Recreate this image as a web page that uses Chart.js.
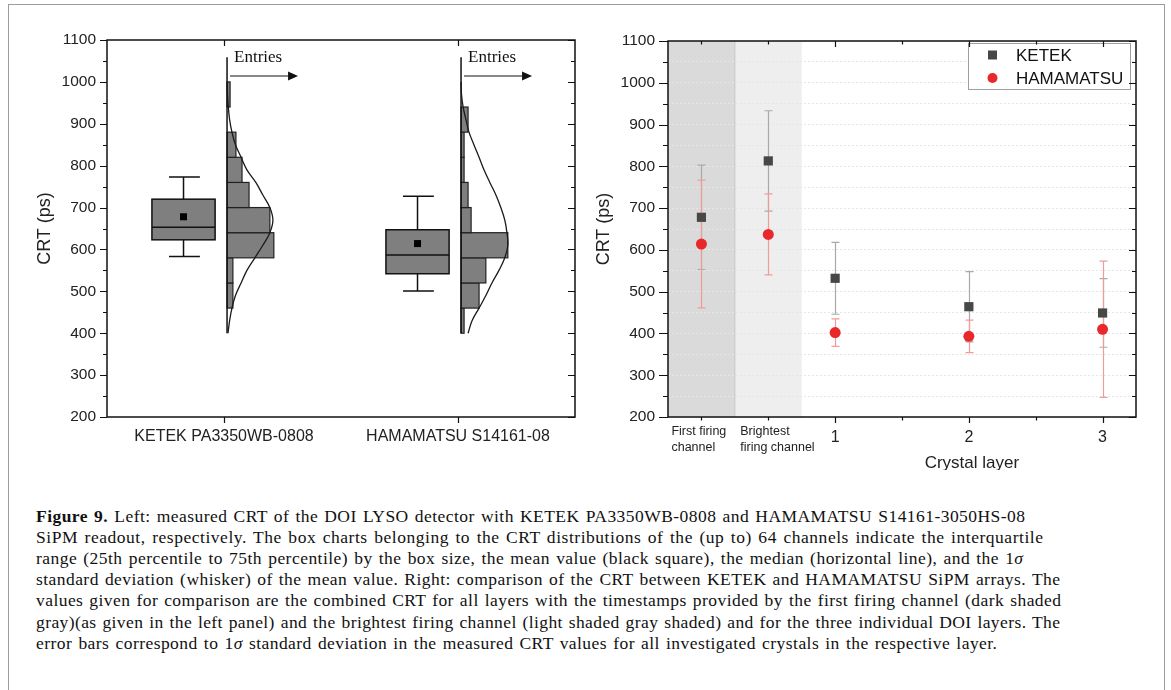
<!DOCTYPE html>
<html>
<head>
<meta charset="utf-8">
<script src="https://cdn.jsdelivr.net/npm/chart.js@4.4.1/dist/chart.umd.min.js"></script>
<style>
  body { margin: 0; background: #fff; width: 1171px; height: 690px; overflow: hidden; position: relative; }
  #frame { position: absolute; left: 8px; top: 4px; width: 1155px; height: 720px; border: 1.5px solid #9c9c9c; }
  canvas { position: absolute; top: 0; }
  #left { left: 0; }
  #right { left: 590px; }
  .cap { position: absolute; left: 36px; font-family: 'Liberation Serif', 'Times New Roman', serif; font-size: 17.5px; line-height: 21px; white-space: nowrap; color: #111; }
</style>
</head>
<body>
<div id="frame"></div>
<canvas id="left" width="590" height="470" style="width:590px;height:470px"></canvas>
<canvas id="right" width="575" height="470" style="width:575px;height:470px"></canvas>
<script>
const FONT = "'Liberation Sans', Arial, sans-serif"

// ---- left panel: box charts + histograms
const sipms = ['KETEK PA3350WB-0808', 'HAMAMATSU S14161-08']
const sipmX = [0.5, 1.5]
const boxQ1 = [623, 542]
const boxMedian = [653, 587]
const boxQ3 = [720, 647]
const boxMean = [678, 614]
const whiskerLow = [583, 501]
const whiskerHigh = [773, 727]

const binEdges = [400, 460, 520, 580, 640, 700, 760, 820, 880, 940, 1000]
const ketekEntries = [0, 2.5, 2.5, 20, 18.3, 9.4, 6.4, 3.8, 0, 1.3]
const hamaEntries = [1.3, 7.7, 10.6, 20, 4.3, 3, 1.3, 1.3, 3, 0]

// fitted curves
const curveCRT = [400, 430, 460, 490, 520, 550, 580, 610, 640, 670, 700, 730, 760, 790, 820, 850, 880, 910, 940, 970, 1000]
const ketekCurve = [0.4, 1.1, 2.1, 3.6, 6.0, 8.5, 11.9, 15.3, 18.3, 19.6, 18.3, 15.3, 12.3, 8.5, 6.0, 3.6, 2.1, 1.1, 0.55, 0.2, 0.1]
const hamaCurve = [3.0, 4.7, 7.7, 10.6, 13.2, 16.2, 18.7, 20.0, 19.6, 18.7, 17.0, 14.9, 12.3, 9.8, 7.7, 5.5, 3.4, 2.1, 0.9, 0.2, 0]

const crtTicks = [200, 250, 300, 350, 400, 450, 500, 550, 600, 650, 700, 750, 800, 850, 900, 950, 1000, 1050, 1100]

// ---- right panel: CRT per layer
const layers = [['First firing', 'channel'], ['Brightest', 'firing channel'], '1', '2', '3']
const layerX = [0, 1, 2, 4, 6]
const layerTicks = [0, 1, 2, 3, 4, 5, 6]
const ketekCRT = [678, 813, 532, 464, 449]
const ketekSigma = [125, 120, 86, 84, 82]
const hamaCRT = [614, 637, 402, 393, 410]
const hamaSigma = [153, 97, 33, 39, 163]

const ENTRY_W = 0.01   // x units per entry
const HIST_SHIFT = 0.013

function curvePoints(k, widths) {
  return curveCRT.map((v, i) => ({ x: sipmX[k] + HIST_SHIFT + widths[i] * ENTRY_W, y: v }))
}

// ticks on all four sides + frame
function makeAxisMarks(cfg) {
  return {
    id: 'axisMarks',
    afterDraw(chart) {
      const { ctx, chartArea: a, scales: { x, y } } = chart
      ctx.save()
      ctx.strokeStyle = '#111'
      ctx.lineWidth = 1.2
      ctx.beginPath()
      y.ticks.forEach(t => {
        const p = Math.round(y.getPixelForValue(t.value)) + 0.5
        const major = t.value % 100 === 0
        const out = major ? cfg.yOut[0] : cfg.yOut[1]
        const inn = major ? cfg.yIn[0] : cfg.yIn[1]
        ctx.moveTo(a.left - out, p); ctx.lineTo(a.left, p)
        ctx.moveTo(a.right - inn, p); ctx.lineTo(a.right, p)
      })
      x.ticks.forEach(t => {
        const p = Math.round(x.getPixelForValue(t.value)) + 0.5
        const major = cfg.xMajor.includes(t.value)
        const len = major ? cfg.xLen[0] : cfg.xLen[1]
        ctx.moveTo(p, a.bottom); ctx.lineTo(p, a.bottom + len)
        ctx.moveTo(p, a.top); ctx.lineTo(p, a.top + len)
      })
      ctx.stroke()
      ctx.lineWidth = 1.5
      ctx.strokeRect(a.left, a.top, a.right - a.left, a.bottom - a.top)
      ctx.restore()
    }
  }
}

const boxHist = {
  id: 'boxHist',
  beforeDatasetsDraw(chart) {
    const { ctx, chartArea: a, scales: { x, y } } = chart
    ctx.save()
    const groups = [ketekEntries, hamaEntries]
    groups.forEach((entries, k) => {
      const base = sipmX[k] + HIST_SHIFT
      const bx = x.getPixelForValue(base)
      // histogram bars
      entries.forEach((n, i) => {
        if (!n) return
        const x1 = x.getPixelForValue(base + n * ENTRY_W)
        const yt = y.getPixelForValue(binEdges[i + 1])
        const yb = y.getPixelForValue(binEdges[i])
        ctx.fillStyle = '#7f7f7f'
        ctx.fillRect(bx, yt, x1 - bx, yb - yt)
        ctx.strokeStyle = '#222'
        ctx.lineWidth = 1.2
        ctx.strokeRect(bx, yt, x1 - bx, yb - yt)
      })
      ctx.strokeStyle = '#111'
      ctx.lineWidth = 1.5
      ctx.beginPath()
      ctx.moveTo(bx, y.getPixelForValue(400))
      ctx.lineTo(bx, y.getPixelForValue(1059))
      ctx.stroke()

      // "Entries" arrow
      ctx.fillStyle = '#111'
      ctx.font = "17px 'Liberation Serif', serif"
      ctx.textAlign = 'left'
      ctx.textBaseline = 'middle'
      ctx.fillText('Entries', bx + 7, a.top + 18)
      const ay = a.top + 36
      ctx.lineWidth = 1.2
      ctx.beginPath()
      ctx.moveTo(bx + 3, ay); ctx.lineTo(bx + 63, ay)
      ctx.stroke()
      ctx.beginPath()
      ctx.moveTo(bx + 71, ay); ctx.lineTo(bx + 61, ay - 4.5); ctx.lineTo(bx + 61, ay + 4.5)
      ctx.closePath(); ctx.fill()

      // box chart
      const c = sipmX[k]
      const l = x.getPixelForValue(c - 0.308), r = x.getPixelForValue(c - 0.038)
      const m = x.getPixelForValue(c - 0.173)
      const cl = x.getPixelForValue(c - 0.235), cr = x.getPixelForValue(c - 0.103)
      const q1 = y.getPixelForValue(boxQ1[k]), q3 = y.getPixelForValue(boxQ3[k])
      const md = y.getPixelForValue(boxMedian[k])
      const wl = y.getPixelForValue(whiskerLow[k]), wh = y.getPixelForValue(whiskerHigh[k])
      ctx.strokeStyle = '#111'
      ctx.lineWidth = 1.5
      ctx.beginPath()
      ctx.moveTo(m, q3); ctx.lineTo(m, wh)
      ctx.moveTo(cl, wh); ctx.lineTo(cr, wh)
      ctx.moveTo(m, q1); ctx.lineTo(m, wl)
      ctx.moveTo(cl, wl); ctx.lineTo(cr, wl)
      ctx.stroke()
      ctx.fillStyle = '#7f7f7f'
      ctx.fillRect(l, q3, r - l, q1 - q3)
      ctx.strokeRect(l, q3, r - l, q1 - q3)
      ctx.beginPath()
      ctx.moveTo(l, md); ctx.lineTo(r, md)
      ctx.stroke()
      const mp = y.getPixelForValue(boxMean[k])
      ctx.fillStyle = '#000'
      ctx.fillRect(m - 3.5, mp - 3.5, 7, 7)
    })
    ctx.restore()
  }
}

new Chart(document.getElementById('left'), {
  type: 'scatter',
  data: {
    datasets: [
      { label: 'KETEK fit', data: curvePoints(0, ketekCurve), showLine: true, tension: 0.4, pointRadius: 0, borderColor: '#1a1a1a', borderWidth: 1.3 },
      { label: 'HAMAMATSU fit', data: curvePoints(1, hamaCurve), showLine: true, tension: 0.4, pointRadius: 0, borderColor: '#1a1a1a', borderWidth: 1.3 }
    ]
  },
  options: {
    responsive: false,
    animation: false,
    layout: { padding: { top: 40, right: 15, left: 0, bottom: 0 } },
    plugins: { legend: { display: false }, tooltip: { enabled: false } },
    scales: {
      x: {
        type: 'linear', min: 0, max: 2,
        afterBuildTicks: s => { s.ticks = sipmX.map(v => ({ value: v })) },
        afterFit: s => { s.height = 53 },
        grid: { drawOnChartArea: false, tickLength: 6, tickColor: 'transparent' },
        border: { display: false },
        ticks: { padding: 4, autoSkip: false, maxRotation: 0, color: '#222', font: { size: 16, family: FONT },
          callback: v => sipms[sipmX.indexOf(v)] }
      },
      y: {
        min: 200, max: 1100,
        afterBuildTicks: s => { s.ticks = crtTicks.map(v => ({ value: v })) },
        afterFit: s => { s.width = 107 },
        grid: { drawOnChartArea: false, tickLength: 7, tickColor: 'transparent' },
        border: { display: false },
        ticks: { padding: 4, autoSkip: false, color: '#222', font: { size: 15.5, family: FONT },
          callback: v => v % 100 === 0 ? String(v) : '' },
        title: { display: true, text: 'CRT (ps)', color: '#222', font: { size: 18, family: FONT }, padding: { top: 34, bottom: 0 } }
      }
    }
  },
  plugins: [boxHist, makeAxisMarks({ yOut: [7, 4], yIn: [7, 4], xMajor: sipmX, xLen: [6, 6] })]
})

// ---- right panel
const shading = {
  id: 'shading',
  beforeDraw(chart) {
    const { ctx, chartArea: a, scales: { x } } = chart
    const p0 = x.getPixelForValue(-0.5), p1 = x.getPixelForValue(0.5), p2 = x.getPixelForValue(1.5)
    ctx.save()
    ctx.fillStyle = '#dadada'
    ctx.fillRect(p0, a.top, p1 - p0, a.bottom - a.top)
    ctx.fillStyle = '#eeeeee'
    ctx.fillRect(p1, a.top, p2 - p1, a.bottom - a.top)
    ctx.strokeStyle = '#c4c4c4'
    ctx.lineWidth = 1
    ctx.beginPath(); ctx.moveTo(p1, a.top); ctx.lineTo(p1, a.bottom); ctx.stroke()
    ctx.restore()
  }
}

const errorBars = {
  id: 'errorBars',
  beforeDatasetsDraw(chart) {
    const { ctx, scales: { x, y } } = chart
    ctx.save()
    chart.data.datasets.forEach(ds => {
      ctx.strokeStyle = ds.errColor
      ctx.lineWidth = 1.2
      ctx.beginPath()
      ds.data.forEach((pt, i) => {
        const px = Math.round(x.getPixelForValue(pt.x)) + 0.5
        const hi = y.getPixelForValue(pt.y + ds.sigma[i])
        const lo = y.getPixelForValue(pt.y - ds.sigma[i])
        ctx.moveTo(px, hi); ctx.lineTo(px, lo)
        ctx.moveTo(px - 4, hi); ctx.lineTo(px + 4, hi)
        ctx.moveTo(px - 4, lo); ctx.lineTo(px + 4, lo)
      })
      ctx.stroke()
    })
    ctx.restore()
  }
}

const rightText = {
  id: 'rightText',
  afterDraw(chart) {
    const { ctx, chartArea: a, scales: { x } } = chart
    ctx.save()
    ctx.fillStyle = '#222'
    // two-line category labels, left aligned
    ctx.font = '12.5px ' + FONT
    ctx.textAlign = 'left'
    ctx.textBaseline = 'middle'
    layers.forEach((lab, i) => {
      if (!Array.isArray(lab)) return
      const px = x.getPixelForValue(layerX[i]) - (i === 0 ? 30 : 28)
      lab.forEach((line, j) => ctx.fillText(line, px, a.bottom + 15 + j * 16))
    })
    // axis title, centred over layer 2
    ctx.font = '17px ' + FONT
    ctx.textAlign = 'center'
    ctx.fillText('Crystal layer', x.getPixelForValue(layerX[3]) + 3, a.bottom + 46)

    // legend
    const bl = a.right - 168, bt = a.top + 2
    ctx.fillStyle = '#fff'
    ctx.fillRect(bl, bt, 162, 46)
    ctx.strokeStyle = '#a0a0a0'
    ctx.lineWidth = 1
    ctx.strokeRect(bl + 0.5, bt + 0.5, 162, 46)
    chart.data.datasets.forEach((ds, i) => {
      const yy = bt + 12 + i * 23
      ctx.fillStyle = ds.backgroundColor
      if (ds.pointStyle === 'rect') {
        ctx.fillRect(bl + 20, yy - 4.5, 9, 9)
      } else {
        ctx.beginPath(); ctx.arc(bl + 24.5, yy, 5, 0, Math.PI * 2); ctx.fill()
      }
      ctx.fillStyle = '#111'
      ctx.font = '17px ' + FONT
      ctx.textAlign = 'left'
      ctx.fillText(ds.label, bl + 48, yy + 1)
    })
    ctx.restore()
  }
}

new Chart(document.getElementById('right'), {
  type: 'scatter',
  data: {
    datasets: [
      { label: 'KETEK', data: layerX.map((v, i) => ({ x: v, y: ketekCRT[i] })), sigma: ketekSigma, errColor: '#a9a9a9',
        pointStyle: 'rect', pointRadius: 6.5, backgroundColor: '#474747', borderColor: '#474747', borderWidth: 0 },
      { label: 'HAMAMATSU', data: layerX.map((v, i) => ({ x: v, y: hamaCRT[i] })), sigma: hamaSigma, errColor: '#f29a9a',
        pointStyle: 'circle', pointRadius: 5.5, backgroundColor: '#e8282b', borderColor: '#e8282b', borderWidth: 0 }
    ]
  },
  options: {
    responsive: false,
    animation: false,
    layout: { padding: { top: 41, right: 29, left: 0, bottom: 0 } },
    plugins: { legend: { display: false }, tooltip: { enabled: false } },
    scales: {
      x: {
        type: 'linear', min: -0.5, max: 6.5,
        afterBuildTicks: s => { s.ticks = layerTicks.map(v => ({ value: v })) },
        afterFit: s => { s.height = 53 },
        grid: { drawOnChartArea: false, tickLength: 6, tickColor: 'transparent' },
        border: { display: false },
        ticks: { padding: 5, autoSkip: false, maxRotation: 0, color: '#222', font: { size: 16, family: FONT },
          callback: v => { const i = layerX.indexOf(v); return i >= 0 && !Array.isArray(layers[i]) ? layers[i] : '' } }
      },
      y: {
        min: 200, max: 1100,
        afterBuildTicks: s => { s.ticks = crtTicks.map(v => ({ value: v })) },
        afterFit: s => { s.width = 78 },
        grid: { drawOnChartArea: true, color: '#e6e6e6', tickLength: 9, tickColor: 'transparent' },
        border: { display: false, dash: [2, 2] },
        ticks: { padding: 4, autoSkip: false, color: '#222', font: { size: 15.5, family: FONT },
          callback: v => v % 100 === 0 ? String(v) : '' },
        title: { display: true, text: 'CRT (ps)', color: '#222', font: { size: 18, family: FONT }, padding: { top: 3, bottom: 0 } }
      }
    }
  },
  plugins: [shading, errorBars, rightText, makeAxisMarks({ yOut: [9, 5], yIn: [7, 4], xMajor: [2, 4, 6], xLen: [6, 3.5] })]
})

// ---- caption
const captionLines = [
  '<b>Figure 9.</b> Left: measured CRT of the DOI LYSO detector with KETEK PA3350WB-0808 and HAMAMATSU S14161-3050HS-08',
  'SiPM readout, respectively. The box charts belonging to the CRT distributions of the (up to) 64 channels indicate the interquartile',
  'range (25th percentile to 75th percentile) by the box size, the mean value (black square), the median (horizontal line), and the 1<i>σ</i>',
  'standard deviation (whisker) of the mean value. Right: comparison of the CRT between KETEK and HAMAMATSU SiPM arrays. The',
  'values given for comparison are the combined CRT for all layers with the timestamps provided by the first firing channel (dark shaded',
  'gray)(as given in the left panel) and the brightest firing channel (light shaded gray shaded) and for the three individual DOI layers. The',
  'error bars correspond to 1<i>σ</i> standard deviation in the measured CRT values for all investigated crystals in the respective layer.'
]
const captionEnds = [1025, 1043, 1023, 1060, 1061, 1060, 997]

captionLines.forEach((html, i) => {
  const d = document.createElement('div')
  d.className = 'cap'
  d.style.top = (506 + i * 21.1) + 'px'
  d.innerHTML = html
  document.body.appendChild(d)
  const w = d.getBoundingClientRect().width
  const txt = d.textContent
  const spaces = txt.split(' ').length - 1
  const extra = captionEnds[i] - 36 - w
  d.style.wordSpacing = (0.3 * extra / spaces) + 'px'
  d.style.letterSpacing = (0.7 * extra / (txt.length - 1)) + 'px'
})
</script>
</body>
</html>
